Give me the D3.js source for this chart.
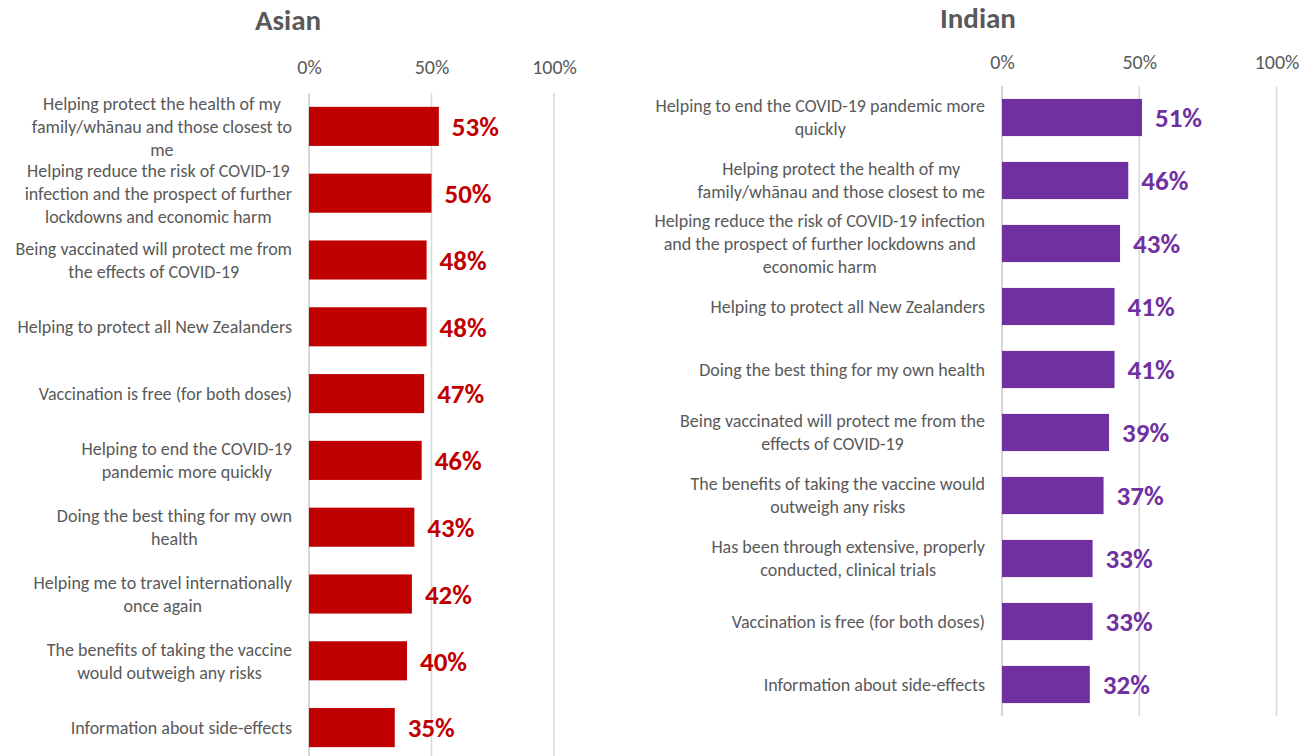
<!DOCTYPE html>
<html>
<head>
<meta charset="utf-8">
<script src="https://cdn.jsdelivr.net/npm/d3@7"></script>
<style>
  html, body { margin: 0; padding: 0; background: #ffffff; }
  svg { display: block; }
  text { font-family: Carlito, Calibri, Lato, "Open Sans", sans-serif; }
</style>
</head>
<body>
<svg id="chart" width="1315" height="756"></svg>
<script>
// Reasons for getting vaccinated, by ethnic group (share of respondents)
const asianCategories = [
  "Helping protect the health of my\nfamily/whānau and those closest to\nme",
  "Helping reduce the risk of COVID-19\ninfection and the prospect of further\nlockdowns and economic harm",
  "Being vaccinated will protect me from\nthe effects of COVID-19",
  "Helping to protect all New Zealanders",
  "Vaccination is free (for both doses)",
  "Helping to end the COVID-19\npandemic more quickly",
  "Doing the best thing for my own\nhealth",
  "Helping me to travel internationally\nonce again",
  "The benefits of taking the vaccine\nwould outweigh any risks",
  "Information about side-effects"
];
const asianValues = [0.53, 0.50, 0.48, 0.48, 0.47, 0.46, 0.43, 0.42, 0.40, 0.35];

const indianCategories = [
  "Helping to end the COVID-19 pandemic more\nquickly",
  "Helping protect the health of my\nfamily/whānau and those closest to me",
  "Helping reduce the risk of COVID-19 infection\nand the prospect of further lockdowns and\neconomic harm",
  "Helping to protect all New Zealanders",
  "Doing the best thing for my own health",
  "Being vaccinated will protect me from the\neffects of COVID-19",
  "The benefits of taking the vaccine would\noutweigh any risks",
  "Has been through extensive, properly\nconducted, clinical trials",
  "Vaccination is free (for both doses)",
  "Information about side-effects"
];
const indianValues = [0.51, 0.46, 0.43, 0.41, 0.41, 0.39, 0.37, 0.33, 0.33, 0.32];

const tickValues = [0, 0.5, 1];

const svg = d3.select("#chart");
const textGrey = "#595959";

function drawPanel(cfg) {
  const g = svg.append("g");
  const x = d3.scaleLinear().domain([0, 1]).range([cfg.x0, cfg.x1]);
  const y = d3.scaleBand()
    .domain(d3.range(cfg.categories.length))
    .range([cfg.yTop, cfg.yBottom])
    .paddingInner(cfg.pad)
    .paddingOuter(cfg.pad / 2);

  // title
  g.append("text")
    .attr("x", cfg.titleX)
    .attr("y", cfg.titleY)
    .attr("text-anchor", "middle")
    .attr("font-size", 29)
    .attr("font-weight", "bold")
    .attr("fill", textGrey)
    .text(cfg.title);

  // vertical gridlines
  g.selectAll("line.grid")
    .data(tickValues)
    .join("line")
    .attr("class", "grid")
    .attr("x1", d => x(d)).attr("x2", d => x(d))
    .attr("y1", cfg.yTop).attr("y2", cfg.yBottom)
    .attr("stroke", d => d === 0 ? "#c8c8c8" : "#d9d9d9")
    .attr("stroke-width", 1.5);

  // percentage axis along the top
  const axis = d3.axisTop(x)
    .tickValues(tickValues)
    .tickFormat(d3.format(".0%"))
    .tickSize(0)
    .tickPadding(0);
  const ax = g.append("g")
    .attr("transform", `translate(0,${cfg.tickY})`)
    .call(axis);
  ax.select(".domain").remove();
  ax.attr("font-family", null).attr("font-size", null);
  ax.selectAll("text")
    .attr("font-size", 20)
    .attr("fill", textGrey)
    .attr("dy", 0);

  // bars
  g.selectAll("rect.bar")
    .data(cfg.values)
    .join("rect")
    .attr("class", "bar")
    .attr("x", x(0))
    .attr("y", (d, i) => y(i))
    .attr("width", d => x(d) - x(0))
    .attr("height", y.bandwidth())
    .attr("fill", cfg.color);

  // value labels
  g.selectAll("text.value")
    .data(cfg.values)
    .join("text")
    .attr("class", "value")
    .attr("x", d => x(d) + 13)
    .attr("y", (d, i) => y(i) + y.bandwidth() / 2)
    .attr("dy", "0.36em")
    .attr("font-size", 27)
    .attr("font-weight", "bold")
    .attr("fill", cfg.color)
    .text(d => d3.format(".0%")(d));

  // category labels: wrapped lines centred on each other, block right-aligned
  const lineH = 23;
  const rightEdge = x(0) - 17;
  cfg.categories.forEach((cat, i) => {
    const lines = cat.split("\n");
    const t = g.append("text")
      .attr("font-size", 18)
      .attr("fill", textGrey)
      .attr("text-anchor", "middle");
    const cy = y(i) + y.bandwidth() / 2;
    const spans = lines.map((ln, k) =>
      t.append("tspan")
        .attr("y", cy + (k - (lines.length - 1) / 2) * lineH)
        .attr("dy", "0.35em")
        .text(ln));
    const w = d3.max(spans, s => s.node().getComputedTextLength());
    spans.forEach(s => s.attr("x", rightEdge - w / 2));
  });
}

drawPanel({
  title: "Asian", titleX: 288, titleY: 30,
  categories: asianCategories, values: asianValues,
  color: "#C00000",
  x0: 309, x1: 554, yTop: 93, yBottom: 761, pad: 0.415,
  tickY: 74
});

drawPanel({
  title: "Indian", titleX: 978, titleY: 28,
  categories: indianCategories, values: indianValues,
  color: "#7030A0",
  x0: 1002, x1: 1276.5, yTop: 86, yBottom: 716, pad: 0.41,
  tickY: 69
});
</script>
</body>
</html>
